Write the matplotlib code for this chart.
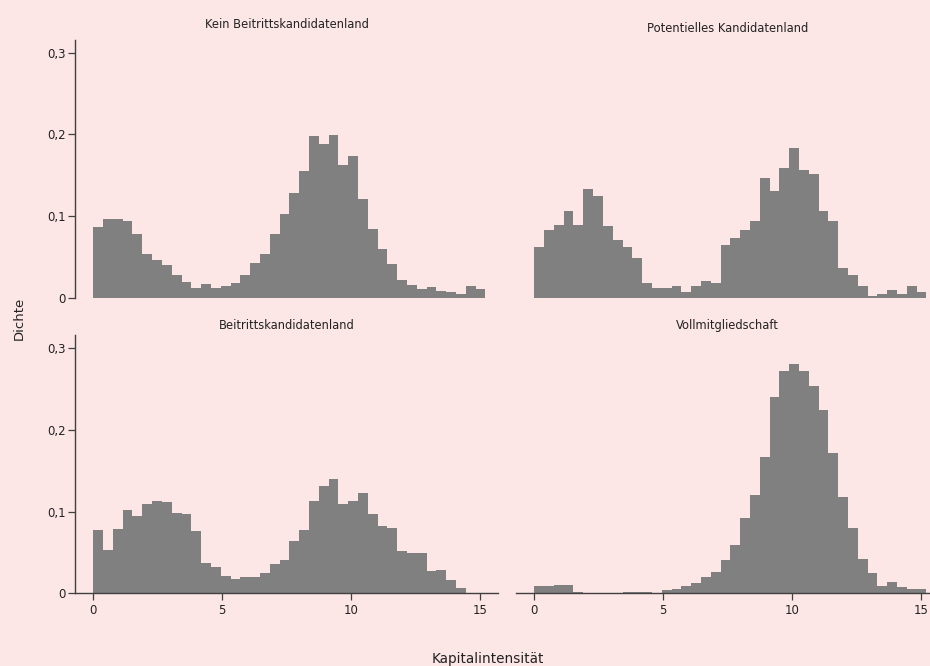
import numpy as np
import matplotlib
matplotlib.use("Agg")
import matplotlib.pyplot as plt

# ---- data ----
bin_width = 0.38
n_bins = 40
panel_titles = ["Kein Beitrittskandidatenland", "Potentielles Kandidatenland",
                "Beitrittskandidatenland", "Vollmitgliedschaft"]

dens_kein = [0.0865, 0.0963, 0.0963, 0.0939, 0.078, 0.0535, 0.0461, 0.040, 0.0278, 0.0192,
             0.0118, 0.0167, 0.0118, 0.0143, 0.018, 0.0278, 0.0424, 0.0535, 0.078, 0.1024,
             0.128, 0.155, 0.198, 0.188, 0.199, 0.162, 0.173, 0.121, 0.084, 0.0596,
             0.0412, 0.0216, 0.0155, 0.0106, 0.0131, 0.0082, 0.0069, 0.0045, 0.0143, 0.0106]
dens_pot = [0.062, 0.0829, 0.089, 0.106, 0.089, 0.133, 0.1245, 0.0878, 0.0706, 0.062,
            0.0486, 0.018, 0.0118, 0.0118, 0.0143, 0.0069, 0.0143, 0.0204, 0.018, 0.0645,
            0.073, 0.0829, 0.0939, 0.1465, 0.1306, 0.1588, 0.1833, 0.1563, 0.1514, 0.106,
            0.0939, 0.0363, 0.0278, 0.0143, 0.002, 0.0045, 0.0094, 0.0045, 0.0143, 0.0069]
dens_beitr = [0.0776, 0.0531, 0.0788, 0.102, 0.0947, 0.1094, 0.113, 0.1118, 0.0984, 0.0971,
              0.0763, 0.0371, 0.0322, 0.0212, 0.0176, 0.02, 0.02, 0.0249, 0.0359, 0.0408,
              0.0641, 0.0776, 0.113, 0.1314, 0.14, 0.1094, 0.113, 0.1229, 0.0971, 0.0824,
              0.08, 0.0518, 0.0494, 0.0494, 0.0273, 0.0286, 0.0163, 0.0065, 0.0, 0.0]
dens_voll = [0.009, 0.009, 0.0102, 0.0102, 0.0016, 0.0, 0.0, 0.0004, 0.0004, 0.0016,
             0.0016, 0.0016, 0.0, 0.004, 0.0053, 0.009, 0.0127, 0.02, 0.0261, 0.0408,
             0.0592, 0.0922, 0.1204, 0.167, 0.2404, 0.2722, 0.2808, 0.2722, 0.2539, 0.2245,
             0.1718, 0.118, 0.08, 0.042, 0.0249, 0.009, 0.0139, 0.0078, 0.0053, 0.0053]

x_ticks = [0, 5, 10, 15]
y_ticks = [0, 0.1, 0.2, 0.3]
y_ticklabels = ["0", "0,1", "0,2", "0,3"]

BG = "#fde6e6"
BAR = "#808080"
AX = "#404040"

W, H = 930, 666
fig = plt.figure(figsize=(W / 100, H / 100), dpi=100, facecolor=BG)
plt.rcParams['font.family'] = ['DejaVu Sans']

def px_axes(left, top, right, bottom):
    ax = fig.add_axes([left / W, 1 - bottom / H, (right - left) / W, (bottom - top) / H])
    ax.set_facecolor(BG)
    return ax

edges = np.arange(n_bins) * bin_width
datasets = [dens_kein, dens_pot, dens_beitr, dens_voll]
boxes = [(75.2, 39.6, 498.4, 297.7), (516.2, 39.6, 939.4, 297.7),
         (75.2, 335.0, 498.4, 593.3), (516.2, 335.0, 939.4, 593.3)]
title_y = [25, 28, 325, 325]

for i, (data, box, title) in enumerate(zip(datasets, boxes, panel_titles)):
    ax = px_axes(*box)
    ax.bar(edges, data, width=bin_width, align='edge', color=BAR, linewidth=0)
    ax.set_xlim(-0.7, 15.7)
    ax.set_ylim(0, 0.316)
    for s in ax.spines.values():
        s.set_visible(False)
    left_col = (i % 2 == 0)
    bottom_row = (i >= 2)
    if left_col:
        ax.spines['left'].set_visible(True)
        ax.spines['left'].set_color(AX)
        ax.spines['left'].set_linewidth(1.0)
        ax.set_yticks(y_ticks)
        ax.set_yticklabels(y_ticklabels)
        ax.tick_params(axis='y', direction='out', length=5, width=0.9, color=AX,
                       labelsize=8.5, pad=2, labelcolor='#222222')
    else:
        ax.set_yticks([])
    if bottom_row:
        ax.spines['bottom'].set_visible(True)
        ax.spines['bottom'].set_color(AX)
        ax.spines['bottom'].set_linewidth(1.0)
        ax.set_xticks(x_ticks)
        ax.set_xticklabels([str(t) for t in x_ticks])
        ax.tick_params(axis='x', direction='out', length=5, width=0.9, color=AX,
                       labelsize=8.5, pad=3, labelcolor='#222222')
    else:
        ax.set_xticks([])
    cx = (box[0] + box[2]) / 2
    fig.text(cx / W, 1 - title_y[i] / H, title, ha='center', va='center', fontsize=8.3, color='#222222')

fig.text(19 / W, 1 - 318 / H, "Dichte", rotation=90, ha='center', va='center', fontsize=9.5, color='#222222')
fig.text(488 / W, 1 - 659 / H, "Kapitalintensität", ha='center', va='center', fontsize=9.8, color='#222222')

fig.savefig("out.png", dpi=100, facecolor=BG)
